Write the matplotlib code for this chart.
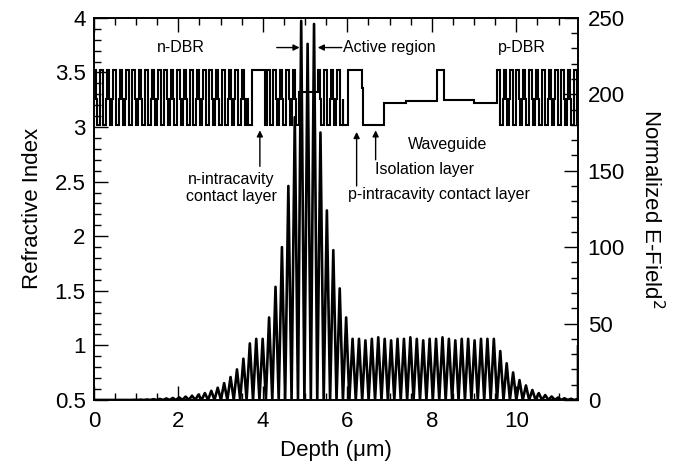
import numpy as np
import matplotlib
matplotlib.use("Agg")
import matplotlib.pyplot as plt
from matplotlib.ticker import MultipleLocator, FuncFormatter

plt.rcParams['font.family'] = ['Liberation Sans', 'DejaVu Sans']

# refractive index profile, layers from left to right (thickness in um, index)
dbr_pair_t = [0.061, 0.015, 0.061, 0.015]
dbr_pair_n = [3.52, 3.26, 3.015, 3.26]
n_dbr_pairs = 24
cav1_t = [0.092, 0.31, 0.05]
cav1_n = [3.015, 3.52, 3.015]
inner_pairs_1 = 5
active_t = [0.44]
active_n = [3.32]
inner_pairs_2 = 4
cav2_t = [0.10, 0.33, 0.03, 0.49, 0.53, 0.73, 0.16, 0.71, 0.56]
cav2_n = [3.015, 3.52, 3.36, 3.015, 3.22, 3.24, 3.52, 3.245, 3.22]
p_dbr_pairs = 13

# normalized |E|^2 : peak height of each standing-wave period
efield_x0 = 0.044
efield_period = 0.152
efield_peaks = [0, 0, 0, 0, 0, 0.05, 0.1, 0.2, 0.3, 0.5,
                0.7, 1.0, 1.3, 1.7, 2.2, 2.8, 3.5, 4.5, 6, 8,
                11, 15, 20, 27, 37, 40, 40, 54, 74, 100,
                140, 185, 248, 233, 246, 175, 124, 98, 73, 54,
                40, 40, 39, 40, 41, 40, 39, 40, 40, 41,
                40, 39, 40, 40, 41, 40, 39, 40, 40, 39,
                40, 40, 40,
                32, 24, 18, 13, 9.5, 6.5, 4.5, 3.2, 2.3, 1.6, 1.1, 0.8, 0.5]
efield_end = 35

x_max = 11.46

# build the step profile
layer_t = (dbr_pair_t * n_dbr_pairs + cav1_t + dbr_pair_t * inner_pairs_1
           + active_t + dbr_pair_t * inner_pairs_2 + cav2_t + dbr_pair_t * p_dbr_pairs)
layer_n = (dbr_pair_n * n_dbr_pairs + cav1_n + dbr_pair_n * inner_pairs_1
           + active_n + dbr_pair_n * inner_pairs_2 + cav2_n + dbr_pair_n * p_dbr_pairs)
edges = np.concatenate([[0], np.cumsum(layer_t)])

# zigzag through peaks and zero troughs
peak_x = efield_x0 + efield_period * np.arange(len(efield_peaks))
ex, ey = [peak_x[0] - efield_period / 2], [0]
for px, pv in zip(peak_x, efield_peaks):
    ex += [px, px + efield_period / 2]
    ey += [pv, 0]
ex += [x_max, x_max]
ey += [0, efield_end]

fig = plt.figure(figsize=(6.8, 4.7), dpi=100)
ax = fig.add_axes([0.138, 0.149, 0.712, 0.813])
ax2 = ax.twinx()

ax.stairs(layer_n, edges, baseline=None, color='k', lw=1.5)
ax2.plot(ex, ey, color='k', lw=1.9)

ax.set_xlim(0, x_max)
ax.set_ylim(0.5, 4)
ax2.set_ylim(0, 250)

ax.xaxis.set_major_locator(MultipleLocator(2))
ax.xaxis.set_minor_locator(MultipleLocator(0.5))
ax.yaxis.set_major_locator(MultipleLocator(0.5))
ax.yaxis.set_minor_locator(MultipleLocator(0.1))
ax.yaxis.set_major_formatter(FuncFormatter(lambda v, p: '%g' % v))
ax2.yaxis.set_major_locator(MultipleLocator(50))
ax2.yaxis.set_minor_locator(MultipleLocator(10))

ax.tick_params(which='both', direction='in', top=True, right=False, width=1, labelsize=16)
ax.tick_params(which='major', length=10)
ax.tick_params(which='minor', length=5)
ax.tick_params(axis='x', pad=8)
ax.tick_params(axis='y', pad=6)
ax2.tick_params(which='both', direction='in', width=1, labelsize=16, pad=7)
ax2.tick_params(which='major', length=10)
ax2.tick_params(which='minor', length=5)

for a in (ax, ax2):
    for s in a.spines.values():
        s.set_linewidth(1.2)

ax.set_xlabel('Depth (μm)', fontsize=16, labelpad=6)
ax.set_ylabel('Refractive Index', fontsize=16, labelpad=8)
ax2.set_ylabel('Normalized E-Field$^2$', fontsize=16, rotation=270, labelpad=28)

fs = 11.5
ax.text(2.06, 3.725, 'n-DBR', fontsize=fs, ha='center', va='center')
ax.text(10.14, 3.725, 'p-DBR', fontsize=fs, ha='center', va='center')
ax.text(5.89, 3.728, 'Active region', fontsize=fs, ha='left', va='center')
ax.text(3.25, 2.44, 'n-intracavity\ncontact layer', fontsize=fs, ha='center', va='center',
        multialignment='center')
ax.text(6.01, 2.378, 'p-intracavity contact layer', fontsize=fs, ha='left', va='center')
ax.text(6.65, 2.607, 'Isolation layer', fontsize=fs, ha='left', va='center')
ax.text(7.43, 2.836, 'Waveguide', fontsize=fs, ha='left', va='center')

arrow = dict(arrowstyle='-|>', color='k', lw=1, mutation_scale=9, shrinkA=0, shrinkB=0)
ax.annotate('', xy=(4.87, 3.728), xytext=(4.33, 3.728), arrowprops=arrow)
ax.annotate('', xy=(5.30, 3.728), xytext=(5.87, 3.728), arrowprops=arrow)
ax.annotate('', xy=(3.93, 2.97), xytext=(3.93, 2.64), arrowprops=arrow)
ax.annotate('', xy=(6.22, 2.955), xytext=(6.22, 2.46), arrowprops=arrow)
ax.annotate('', xy=(6.67, 2.97), xytext=(6.67, 2.70), arrowprops=arrow)

fig.savefig('out.png', dpi=100)
